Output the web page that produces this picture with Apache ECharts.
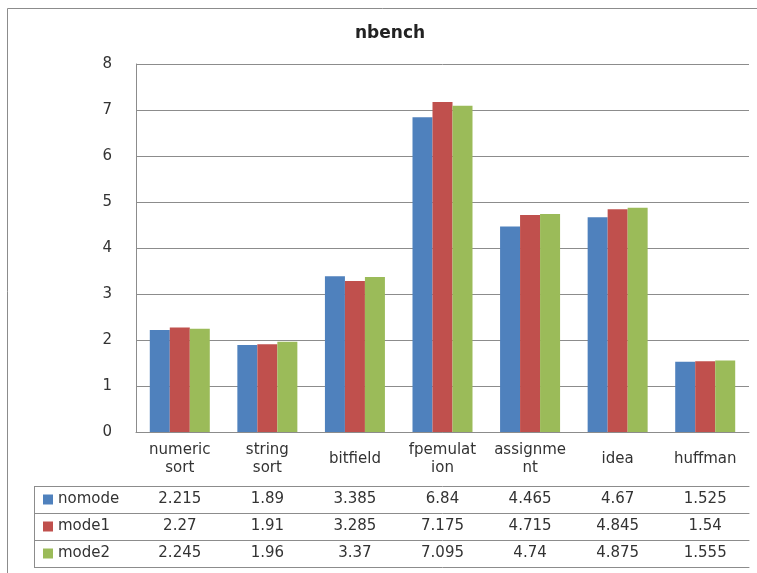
<!DOCTYPE html>
<html>
<head>
<meta charset="utf-8">
<title>nbench</title>
<script src="https://cdn.jsdelivr.net/npm/echarts@6/dist/echarts.min.js"></script>
<style>
  html, body { margin: 0; padding: 0; background: #fff; }
  #main { width: 757px; height: 573px; }
</style>
</head>
<body>
<div id="main"></div>
<script>
// 数据
var categories = ['numeric sort', 'string sort', 'bitfield', 'fpemulation', 'assignment', 'idea', 'huffman'];
var headerLabels = ['numeric\nsort', 'string\nsort', 'bitfield', 'fpemulat\nion', 'assignme\nnt', 'idea', 'huffman'];
var seriesNames = ['nomode', 'mode1', 'mode2'];
var nomode = [2.215, 1.89, 3.385, 6.84, 4.465, 4.67, 1.525];
var mode1 = [2.27, 1.91, 3.285, 7.175, 4.715, 4.845, 1.54];
var mode2 = [2.245, 1.96, 3.37, 7.095, 4.74, 4.875, 1.555];
var yMin = 0, yMax = 8, yStep = 1;

var colors = ['#4F81BD', '#C0504D', '#9BBB59'];
var seriesValues = [nomode, mode1, mode2];

// 版面
var GRID_LEFT = 136, GRID_TOP = 64, GRID_RIGHT = 8, GRID_BOTTOM = 141;
var HEADER_H = 54, ROW_H = 27;
var LEGEND_LEFT = 34;
var FONT = '"DejaVu Sans", sans-serif';
var LINE = '#8c8c8c';
var TEXT = '#333';

var axisBottomY = 573 - GRID_BOTTOM;
var tableTop = axisBottomY + HEADER_H;

var xAxes = [{
    type: 'category',
    data: categories,
    position: 'bottom',
    axisLine: { lineStyle: { color: LINE } },
    axisTick: { interval: 0, length: HEADER_H, lineStyle: { color: LINE } },
    axisLabel: {
        interval: 0,
        margin: HEADER_H / 2,
        verticalAlign: 'middle',
        lineHeight: 18,
        fontSize: 15,
        fontFamily: FONT,
        color: TEXT,
        formatter: function (v, i) { return headerLabels[i]; }
    }
}];

seriesValues.forEach(function (vals, k) {
    xAxes.push({
        type: 'category',
        data: categories,
        position: 'bottom',
        offset: HEADER_H + k * ROW_H,
        axisLine: { lineStyle: { color: LINE } },
        axisTick: { interval: 0, length: ROW_H, lineStyle: { color: LINE } },
        axisLabel: {
            interval: 0,
            margin: ROW_H / 2,
            verticalAlign: 'middle',
            fontSize: 15,
            fontFamily: FONT,
            color: TEXT,
            formatter: function (v, i) { return String(vals[i]); }
        }
    });
});

// 表格底线
xAxes.push({
    type: 'category',
    data: categories,
    position: 'bottom',
    offset: HEADER_H + seriesValues.length * ROW_H,
    axisLine: { lineStyle: { color: LINE } },
    axisTick: { show: false },
    axisLabel: { show: false }
});

// 图例一栏的框线
var graphics = [{
    type: 'rect',
    shape: { x: 7.5, y: 8.5, width: 800, height: 600 },
    style: { fill: null, stroke: LINE, lineWidth: 1 },
    silent: true
}, {
    type: 'line',
    shape: { x1: LEGEND_LEFT + 0.5, y1: tableTop, x2: LEGEND_LEFT + 0.5, y2: tableTop + seriesValues.length * ROW_H },
    style: { stroke: LINE, lineWidth: 1 },
    silent: true
}];
for (var r = 0; r <= seriesValues.length; r++) {
    graphics.push({
        type: 'line',
        shape: { x1: LEGEND_LEFT, y1: tableTop + r * ROW_H + 0.5, x2: GRID_LEFT, y2: tableTop + r * ROW_H + 0.5 },
        style: { stroke: LINE, lineWidth: 1 },
        silent: true
    });
}

var myChart = echarts.init(document.getElementById('main'));
myChart.setOption({
    animation: false,
    color: colors,
    title: {
        text: 'nbench',
        left: 350,
        top: 20,
        textStyle: { fontSize: 17, fontWeight: 'bold', fontFamily: FONT, color: '#222' }
    },
    legend: {
        data: seriesNames,
        orient: 'vertical',
        left: LEGEND_LEFT + 9,
        top: tableTop + 5,
        padding: 0,
        itemWidth: 10,
        itemHeight: 10,
        itemGap: 10,
        icon: 'rect',
        textStyle: { fontSize: 15, lineHeight: 17, fontFamily: FONT, color: TEXT }
    },
    grid: { left: GRID_LEFT, top: GRID_TOP, right: GRID_RIGHT, bottom: GRID_BOTTOM, containLabel: false },
    xAxis: xAxes,
    yAxis: {
        type: 'value',
        min: yMin,
        max: yMax,
        interval: yStep,
        axisLine: { show: true, lineStyle: { color: LINE } },
        axisTick: { show: false },
        splitLine: { lineStyle: { color: LINE, width: 1 } },
        axisLabel: { margin: 24, fontSize: 15, fontFamily: FONT, color: TEXT }
    },
    series: seriesNames.map(function (name, k) {
        return {
            name: name,
            type: 'bar',
            xAxisIndex: 0,
            barWidth: 20,
            barGap: 0,
            data: seriesValues[k]
        };
    }),
    graphic: graphics
});
</script>
</body>
</html>
